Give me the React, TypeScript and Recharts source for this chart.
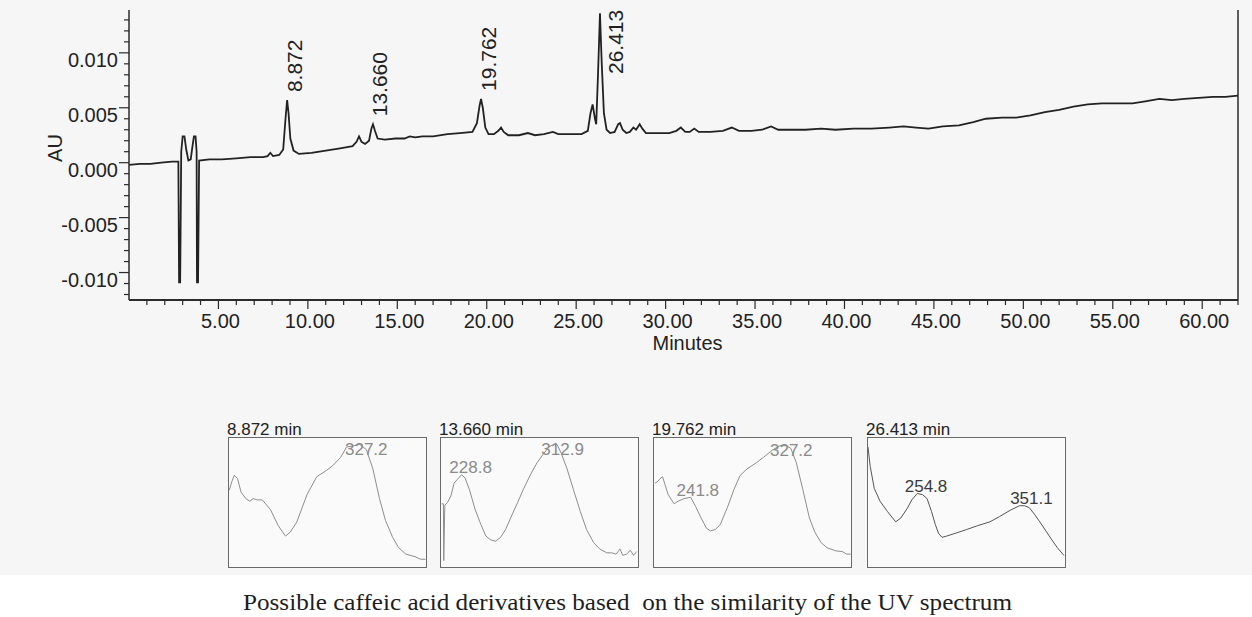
import React from 'react';
import { ComposedChart, Line, XAxis, YAxis, ReferenceDot, ReferenceLine, Label } from 'recharts';

// chromatogram trace (minutes, AU)
const traceMinutes = [
  0.0, 0.6, 1.2, 1.8, 2.4, 2.76, 2.8, 2.86, 2.92, 3.0, 3.1, 3.2, 3.32, 3.45, 3.55, 3.63, 3.72, 3.78, 3.8, 3.86,
  3.92, 4.5, 5.2, 6.0, 6.8, 7.5, 7.75, 7.9, 8.05, 8.4, 8.62, 8.75, 8.84, 8.92, 9.02, 9.2, 9.5, 10.2, 11.0, 11.8,
  12.5, 12.72, 12.86, 13.0, 13.2, 13.42, 13.55, 13.64, 13.75, 13.9, 14.3, 14.9, 15.4, 15.7, 16.0, 16.4, 17.0, 17.8,
  18.5, 19.2, 19.45, 19.6, 19.68, 19.78, 19.92, 20.1, 20.4, 20.65, 20.8, 20.95, 21.2, 21.8, 22.3, 22.7, 23.2, 23.7,
  24.0, 24.6, 25.3, 25.65, 25.8, 25.92, 26.05, 26.12, 26.22, 26.33, 26.43, 26.55, 26.7, 26.9, 27.15, 27.35, 27.45,
  27.6, 27.8, 28.0, 28.2, 28.35, 28.55, 28.7, 28.9, 29.5, 30.2, 30.6, 30.85, 31.1, 31.35, 31.6, 31.85, 32.5, 33.2,
  33.7, 34.1, 34.8, 35.4, 35.9, 36.3, 37.0, 37.8, 38.7, 39.5, 40.5, 41.5, 42.5, 43.3, 44.0, 44.7, 45.5, 46.4, 47.2,
  47.9, 48.8, 49.6, 50.4, 51.2, 52.0, 52.8, 53.6, 54.4, 55.2, 56.1, 56.9, 57.6, 58.3, 59.0, 59.8, 60.6, 61.3, 62.0,
];
const traceAU = [
  -0.0002, -0.0001, -0.0001, 0.0, 0.0001, 0.0001, -0.0109, -0.0109, 0.001, 0.0024, 0.0024, 0.0012, 0.0002, 0.0003,
  0.0015, 0.0024, 0.0024, 0.001, -0.0109, -0.0109, 0.0002, 0.0003, 0.0003, 0.0004, 0.0005, 0.0005, 0.0006, 0.0009,
  0.0006, 0.0007, 0.0012, 0.004, 0.0057, 0.0045, 0.0022, 0.0011, 0.0008, 0.0009, 0.0011, 0.0013, 0.0015, 0.0019,
  0.0024, 0.0019, 0.0017, 0.002, 0.0031, 0.0035, 0.0029, 0.0022, 0.0021, 0.0022, 0.0022, 0.0024, 0.0023, 0.0024,
  0.0024, 0.0026, 0.0027, 0.0028, 0.0036, 0.0052, 0.0058, 0.005, 0.0032, 0.0026, 0.0026, 0.0029, 0.0032, 0.0028,
  0.0025, 0.0025, 0.0027, 0.0025, 0.0026, 0.0028, 0.0026, 0.0026, 0.0026, 0.0029, 0.0045, 0.0053, 0.004, 0.0035,
  0.008, 0.0136, 0.009, 0.0045, 0.003, 0.0027, 0.0028, 0.0035, 0.0036, 0.003, 0.0027, 0.0028, 0.0032, 0.003, 0.0035,
  0.0031, 0.0027, 0.0027, 0.0027, 0.0029, 0.0032, 0.0028, 0.0028, 0.0031, 0.0028, 0.0028, 0.0029, 0.0032, 0.0029,
  0.0029, 0.003, 0.0033, 0.003, 0.003, 0.003, 0.0031, 0.003, 0.0031, 0.0031, 0.0032, 0.0033, 0.0032, 0.0031, 0.0033,
  0.0034, 0.0037, 0.004, 0.0041, 0.0041, 0.0043, 0.0046, 0.0048, 0.0051, 0.0053, 0.0054, 0.0054, 0.0054, 0.0056,
  0.0058, 0.0057, 0.0058, 0.0059, 0.006, 0.006, 0.0061,
];

const peakTimes = [8.84, 13.64, 19.68, 26.33];
const peakHeights = [0.0057, 0.0035, 0.0058, 0.0136];
const peakLabels = ['8.872', '13.660', '19.762', '26.413'];

const xTicks = [
  1, 2, 3, 4, 5, 6, 7, 8, 9, 10, 11, 12, 13, 14, 15, 16, 17, 18, 19, 20, 21, 22, 23, 24, 25, 26, 27, 28, 29, 30, 31,
  32, 33, 34, 35, 36, 37, 38, 39, 40, 41, 42, 43, 44, 45, 46, 47, 48, 49, 50, 51, 52, 53, 54, 55, 56, 57, 58, 59, 60,
  61, 62,
];
const xTickLabels = ['5.00', '10.00', '15.00', '20.00', '25.00', '30.00', '35.00', '40.00', '45.00', '50.00', '55.00', '60.00'];

const yTicks = [
  -0.012, -0.011, -0.01, -0.009, -0.008, -0.007, -0.006, -0.005, -0.004, -0.003, -0.002, -0.001, 0, 0.001, 0.002,
  0.003, 0.004, 0.005, 0.006, 0.007, 0.008, 0.009, 0.01, 0.011, 0.012, 0.013,
];
const yMajorTicks = [-0.01, -0.005, 0, 0.005, 0.01];
const yTickLabels = ['-0.010', '-0.005', '0.000', '0.005', '0.010'];

// UV spectra of the four peaks (nm, relative absorbance)
const spectrumTitles = ['8.872 min', '13.660 min', '19.762 min', '26.413 min'];

const spec1Nm = [210.3, 212.5, 214.8, 217.8, 221, 225.4, 229, 232, 236, 240.5, 248, 255, 261.6, 266, 272, 281.2, 290.2, 299.3, 305.3, 312, 317.4, 324, 329.4, 335.5, 341.5, 347.5, 353, 359.5, 365, 371.6, 380, 385, 389.6];
const spec1Abs = [0.595, 0.66, 0.71, 0.685, 0.58, 0.53, 0.51, 0.53, 0.52, 0.52, 0.443, 0.32, 0.24, 0.27, 0.35, 0.56, 0.7, 0.75, 0.79, 0.85, 0.93, 0.94, 0.95, 0.91, 0.76, 0.53, 0.36, 0.23, 0.15, 0.1, 0.08, 0.06, 0.06];

const spec2Nm = [210.6, 212.2, 212.5, 213.5, 216, 219, 222, 225, 228.8, 232, 236, 241, 246.4, 251, 255.5, 260, 264.5, 269, 273.6, 280, 285.7, 292, 297.9, 303, 308.5, 313, 316, 320, 325.2, 331, 337.3, 343, 349.4, 355, 361.5, 366, 370, 373.6, 376, 379.7, 383, 386, 388.8];
const spec2Abs = [0.49, 0.49, 0.05, 0.48, 0.5, 0.55, 0.65, 0.68, 0.715, 0.69, 0.6, 0.45, 0.33, 0.24, 0.21, 0.2, 0.23, 0.29, 0.38, 0.5, 0.61, 0.72, 0.81, 0.87, 0.93, 0.95, 0.95, 0.88, 0.76, 0.6, 0.43, 0.29, 0.19, 0.14, 0.11, 0.11, 0.1, 0.14, 0.09, 0.1, 0.13, 0.09, 0.12];

const spec3Nm = [210.9, 213, 215, 217.8, 220, 223, 226, 228.4, 232, 237.4, 243.5, 248, 253, 258, 261.6, 266, 270.6, 277, 283, 288.7, 295, 303.8, 310, 318.8, 325, 330.9, 335, 340, 346, 352, 357, 362.6, 368, 376.2, 382, 386, 389.7];
const spec3Abs = [0.65, 0.66, 0.68, 0.7, 0.64, 0.56, 0.52, 0.49, 0.51, 0.53, 0.54, 0.47, 0.38, 0.3, 0.28, 0.29, 0.33, 0.46, 0.6, 0.71, 0.76, 0.81, 0.85, 0.91, 0.94, 0.94, 0.92, 0.81, 0.6, 0.38, 0.27, 0.19, 0.15, 0.125, 0.12, 0.1, 0.1];

const spec4Nm = [210, 212, 215.7, 221, 227.8, 235.3, 240, 245.9, 250, 255, 260, 264, 268, 271.5, 274.5, 277.6, 282, 291.1, 300, 310, 321.3, 330, 340, 348.4, 353, 357.4, 362, 367, 372.5, 378, 383, 389];
const spec4Abs = [0.93, 0.78, 0.61, 0.51, 0.43, 0.35, 0.38, 0.455, 0.52, 0.57, 0.56, 0.53, 0.43, 0.33, 0.26, 0.23, 0.24, 0.265, 0.29, 0.32, 0.35, 0.39, 0.44, 0.475, 0.475, 0.46, 0.41, 0.35, 0.28, 0.21, 0.15, 0.09];

const specPeakNm = [[327.2], [228.8, 312.9], [241.8, 327.2], [254.8, 351.1]];
const specPeakAbs = [[0.95], [0.715, 0.95], [0.54, 0.94], [0.57, 0.475]];
const specPeakLabels = [['327.2'], ['228.8', '312.9'], ['241.8', '327.2'], ['254.8', '351.1']];

const caption = 'Possible caffeic acid derivatives based  on the similarity of the UV spectrum';

const sans = '"Liberation Sans", Arial, sans-serif';
const ink = '#2b2b2b';

const XTick = (props: any) => {
  const { x, y, payload } = props;
  const v = payload.value;
  const major = v % 5 === 0;
  return (
    <g>
      <line x1={x} x2={x} y1={y} y2={y + (major ? 9 : 5)} stroke={ink} strokeWidth={1.2} />
      {major && (
        <text x={x + 2} y={y + 21} textAnchor="middle" dominantBaseline="central" fontSize={20} fontFamily={sans} fill="#222">
          {xTickLabels[v / 5 - 1]}
        </text>
      )}
    </g>
  );
};

const YTick = (props: any) => {
  const { x, y, payload } = props;
  const k = yMajorTicks.findIndex((m) => Math.abs(m - payload.value) < 1e-7);
  const major = k >= 0;
  return (
    <g>
      <line x1={x} x2={x - (major ? 10 : 5)} y1={y} y2={y} stroke={ink} strokeWidth={1.2} />
      {major && (
        <text x={x - 11} y={y + 7} textAnchor="end" dominantBaseline="central" fontSize={20} fontFamily={sans} fill="#222">
          {yTickLabels[k]}
        </text>
      )}
    </g>
  );
};

const PeakTag = ({ cx, cy, text }: { cx: number; cy: number; text: string }) => {
  const len = text.length * 11;
  let tx = cx + 7;
  let ty = cy - 8;
  // no room above the tallest peak: put it beside, hanging from the top
  if (ty - len < 4) {
    tx = cx + 16;
    ty = 8 + len;
  }
  return (
    <text
      x={tx}
      y={ty}
      transform={`rotate(-90 ${tx} ${ty})`}
      textAnchor="start"
      dominantBaseline="central"
      fontSize={21}
      fontFamily={sans}
      fill="#222"
    >
      {text}
    </text>
  );
};

function Spectrum({ idx, left, nm, abs }: { idx: number; left: number; nm: number[]; abs: number[] }) {
  const data = nm.map((w, i) => ({ nm: w, a: abs[i] }));
  const dark = idx === 3;
  const lineColor = dark ? '#555' : '#8e8e8e';
  const textColor = dark ? '#3a3a3a' : '#8a8a8a';
  return (
    <>
      <div
        style={{
          position: 'absolute',
          left: left - 1,
          top: 421,
          fontSize: 17,
          lineHeight: '17px',
          fontFamily: sans,
          color: '#222',
          whiteSpace: 'nowrap',
        }}
      >
        {spectrumTitles[idx]}
      </div>
      <div
        style={{
          position: 'absolute',
          left,
          top: 437,
          width: 199,
          height: 131,
          boxSizing: 'border-box',
          border: '1px solid #6a6a6a',
          background: '#fafafa',
        }}
      >
        <ComposedChart width={197} height={129} data={data} margin={{ top: 0, right: 0, bottom: 0, left: 0 }}>
          <XAxis dataKey="nm" type="number" domain={[210, 390]} hide allowDataOverflow />
          <YAxis type="number" domain={[0, 1]} hide allowDataOverflow />
          <Line type="linear" dataKey="a" stroke={lineColor} strokeWidth={1} dot={false} isAnimationActive={false} />
          {specPeakNm[idx].map((w, j) => (
            <ReferenceDot
              key={j}
              x={w}
              y={specPeakAbs[idx][j]}
              r={1}
              shape={(p: any) => (
                <text
                  x={p.cx + 9}
                  y={p.cy + (specPeakAbs[idx][j] > 0.9 ? 5 : -7)}
                  textAnchor="middle"
                  dominantBaseline="central"
                  fontSize={17}
                  fontFamily={sans}
                  fill={textColor}
                >
                  {specPeakLabels[idx][j]}
                </text>
              )}
            />
          ))}
        </ComposedChart>
      </div>
    </>
  );
}

export default function App() {
  const trace = traceMinutes.map((t, i) => ({ t, au: traceAU[i] }));
  const spectra = [
    { nm: spec1Nm, abs: spec1Abs, left: 228 },
    { nm: spec2Nm, abs: spec2Abs, left: 440 },
    { nm: spec3Nm, abs: spec3Abs, left: 653 },
    { nm: spec4Nm, abs: spec4Abs, left: 867 },
  ];

  return (
    <div style={{ position: 'relative', width: 1252, height: 617, background: '#fff', overflow: 'hidden' }}>
      <style>{'body{margin:0}'}</style>
      <div style={{ position: 'absolute', left: 0, top: 0, width: 1252, height: 575, background: '#f6f6f6' }} />
      <div style={{ position: 'absolute', left: 0, top: 0 }}>
        <ComposedChart width={1252} height={360} data={trace} margin={{ top: 10, right: 14, bottom: 10, left: 0 }}>
          <XAxis
            dataKey="t"
            type="number"
            domain={[0, 62]}
            ticks={xTicks}
            interval={0}
            tickSize={0}
            tickMargin={0}
            tick={<XTick />}
            height={50}
            allowDataOverflow
            axisLine={{ stroke: ink, strokeWidth: 2 }}
          >
            <Label
              content={(p: any) => (
                <text
                  x={p.viewBox.x + p.viewBox.width / 2 + 4}
                  y={p.viewBox.y + 43}
                  textAnchor="middle"
                  dominantBaseline="central"
                  fontSize={20}
                  fontFamily={sans}
                  fill="#222"
                >
                  Minutes
                </text>
              )}
            />
          </XAxis>
          <YAxis
            type="number"
            domain={[-0.0125, 0.0139]}
            ticks={yTicks}
            interval={0}
            tickSize={0}
            tickMargin={0}
            tick={<YTick />}
            width={129}
            allowDataOverflow
            axisLine={{ stroke: ink, strokeWidth: 1.5 }}
          >
            <Label
              content={(p: any) => {
                const cx = 55;
                const cy = p.viewBox.y + p.viewBox.height / 2 - 7;
                return (
                  <text
                    x={cx}
                    y={cy}
                    transform={`rotate(-90 ${cx} ${cy})`}
                    textAnchor="middle"
                    dominantBaseline="central"
                    fontSize={20}
                    fontFamily={sans}
                    fill="#222"
                  >
                    AU
                  </text>
                );
              }}
            />
          </YAxis>
          <ReferenceLine x={62} stroke={ink} strokeWidth={1.5} />
          <Line type="linear" dataKey="au" stroke="#222" strokeWidth={1.8} dot={false} isAnimationActive={false} />
          {peakTimes.map((t, i) => (
            <ReferenceDot
              key={peakLabels[i]}
              x={t}
              y={peakHeights[i]}
              r={1}
              shape={(p: any) => <PeakTag cx={p.cx} cy={p.cy} text={peakLabels[i]} />}
            />
          ))}
        </ComposedChart>
      </div>
      {spectra.map((s, i) => (
        <Spectrum key={i} idx={i} left={s.left} nm={s.nm} abs={s.abs} />
      ))}
      <svg width={1252} height={40} style={{ position: 'absolute', left: 0, top: 577 }}>
        <text
          x={627.5}
          y={33}
          textAnchor="middle"
          textLength={769}
          lengthAdjust="spacingAndGlyphs"
          fontSize={24}
          fontFamily='"Liberation Serif", "Times New Roman", serif'
          fill="#1e1e1e"
          style={{ whiteSpace: 'pre' }}
        >
          {caption}
        </text>
      </svg>
    </div>
  );
}
